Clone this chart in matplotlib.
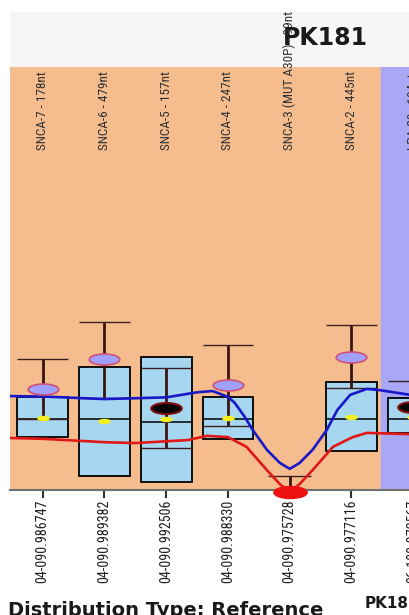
import numpy as np
import matplotlib
matplotlib.use('Agg')
import matplotlib.pyplot as plt
from matplotlib.path import Path
from matplotlib.patches import Rectangle
from matplotlib import font_manager

# probes (top labels) and genomic positions (bottom labels)
probes = ['SNCA-7 - 178nt', 'SNCA-6 - 479nt', 'SNCA-5 - 157nt', 'SNCA-4 - 247nt',
          'SNCA-3 (MUT A30P) - 99nt', 'SNCA-2 - 445nt', 'LPA-20 - 184nt']
positions = ['04-090.986747', '04-090.989382', '04-090.992506', '04-090.988330',
             '04-090.975728', '04-090.977116', '06-180.972567']

# reference distribution per probe
box_low = [12.5, 3.3, 1.9, 12.1, np.nan, 9.2, 13.5]
box_high = [22.0, 29.1, 31.4, 22.0, np.nan, 25.5, 21.7]
median = [16.8, 16.8, 16.1, 16.8, np.nan, 16.8, 16.8]
whisk_low = [16.8, 21.7, 9.9, 15.1, -3.0, 24.1, 13.5]
whisk_high = [31.0, 39.7, 28.8, 34.3, 3.3, 39.0, 25.8]
mean_ref = [17.0, 16.3, 16.8, 17.0, np.nan, 17.3, 17.3]

# sample values
sample_normal = [23.9, 31.0, np.nan, 24.8, np.nan, 31.4, np.nan]
sample_high = [np.nan, np.nan, 19.4, np.nan, np.nan, np.nan, 19.6]
sample_low = [np.nan, np.nan, np.nan, np.nan, -0.5, np.nan, np.nan]

# threshold curves (position in probe units, value)
upper_x = [-0.53, 0, 1, 2, 2.5, 2.75, 3, 3.11, 3.27, 3.4, 3.63, 3.84, 4, 4.16, 4.37, 4.6, 4.77, 4.98, 5.25, 5.46, 5.95]
upper_y = [22.2, 22.1, 21.5, 21.9, 23.1, 23.4, 22.0, 20.6, 17.3, 14.2, 9.5, 6.4, 5.0, 6.4, 9.5, 14.2, 18.9, 22.5, 23.9, 23.6, 22.5]
lower_x = [-0.53, 0, 1, 1.5, 2.35, 2.66, 3, 3.3, 3.63, 3.84, 4, 4.16, 4.37, 4.7, 5.02, 5.25, 5.95]
lower_y = [12.3, 12.1, 11.3, 11.1, 11.8, 12.8, 12.5, 10.2, 4.7, 1.4, -0.5, 1.4, 4.7, 10.2, 12.5, 13.5, 13.2]

x = np.arange(len(probes))
bw = 0.82

# pick a narrow face if one is installed
names = {f.name for f in font_manager.fontManager.ttflist}
narrow_fam = 'DejaVu Sans'
for cand in ['Liberation Sans Narrow', 'DejaVu Sans Condensed', 'Roboto Condensed', 'Open Sans Condensed']:
    if cand in names:
        narrow_fam = cand
        break
lab_size = 9.5 if narrow_fam != 'DejaVu Sans' else 7.2

fig = plt.figure(figsize=(4.1, 6.15), dpi=100)
fig.patches.append(Rectangle((10 / 410, 1 - 67 / 615), 1, 55 / 615,
                             transform=fig.transFigure, color='#f6f6f6', zorder=-2))
ax = fig.add_axes([10 / 410, 125 / 615, 465 / 410, 423 / 615])
ax.set_facecolor('none')
ax.set_xlim(-0.53, 7)
ax.set_ylim(0, 100)

ax.axvspan(-0.53, 5.48, color='#f5bd8e', zorder=0)
ax.axvspan(5.48, 7, color='#a8a8f6', zorder=0)

ax.bar(x, np.array(box_high) - np.array(box_low), bottom=box_low, width=bw,
       color='#a6d6f0', edgecolor='black', linewidth=1.3, zorder=2)
ax.hlines(median, x - bw / 2, x + bw / 2, color='black', lw=1.1, zorder=3)
ax.vlines(x, whisk_low, whisk_high, color='#3a1410', lw=2, zorder=3)
capw = np.array([bw] * 4 + [0.7] + [bw] * 2)
ax.hlines(whisk_high, x - capw / 2, x + capw / 2, color='#3a2020', lw=1, zorder=3)
ax.hlines(whisk_low, x - capw / 2, x + capw / 2, color='#3a2020', lw=1, zorder=3)

ax.plot(upper_x, upper_y, color='#1818c8', lw=1.9, zorder=4)
ax.plot(lower_x, lower_y, color='#e01818', lw=1.9, zorder=4)

# flat ellipse marker (the original image is stretched sideways)
ell = Path(Path.unit_circle().vertices * [1, 0.36], Path.unit_circle().codes)
ax.plot(x, mean_ref, ls='none', marker=ell, ms=8, color='#f2f020', zorder=5)
ax.plot(x, sample_normal, ls='none', marker=ell, ms=22, mfc='#a0a0f8',
        mec='#d05078', mew=1.2, zorder=6)
ax.plot(x, sample_high, ls='none', marker=ell, ms=22, mfc='black',
        mec='#801010', mew=1.5, zorder=6)
ax.plot(x, sample_low, ls='none', marker=ell, ms=24, color='#ee1010',
        zorder=6, clip_on=False)

for xi, name in zip(x, probes):
    ax.text(xi, 80.4, name, rotation=90, ha='center', va='bottom',
            fontsize=lab_size, family=narrow_fam, stretch='condensed',
            color='#303030', zorder=10, clip_on=False)

ax.set_xticks(x)
ax.set_xticklabels(positions, rotation=90, fontsize=lab_size + 0.6, family=narrow_fam,
                   stretch='condensed', color='#202020')
ax.tick_params(axis='x', length=6, width=1.5, color='#303030', pad=1)
ax.set_yticks([])
for s in ['left', 'right', 'top']:
    ax.spines[s].set_visible(False)
ax.spines['bottom'].set_color('#707070')
ax.spines['bottom'].set_linewidth(1.5)

fig.text(325 / 410, 1 - 38 / 615, 'PK181', ha='center', va='center',
         fontsize=17, fontweight='bold', family='DejaVu Sans', color='#1a1a1a', zorder=-1)
fig.text(365 / 410, 1 - 603 / 615, 'PK181', ha='left', va='center',
         fontsize=11, fontweight='bold', family='DejaVu Sans', color='#1a1a1a')
fig.text(8 / 410, 1 - 611 / 615, 'Distribution Type: Reference', ha='left', va='center',
         fontsize=14, fontweight='bold', family='DejaVu Sans', color='#1a1a1a')

fig.savefig('out.png', dpi=100)
